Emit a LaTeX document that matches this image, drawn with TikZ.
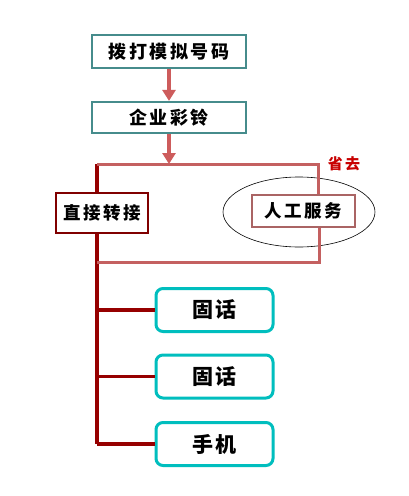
\documentclass[tikz,border=0pt]{standalone}
\usepackage{fontspec}
\newfontfamily\cjk[LetterSpace=14]{Noto Sans CJK SC}
\newfontfamily\cjkb[LetterSpace=6]{Noto Sans CJK SC}
\usetikzlibrary{arrows.meta}
\definecolor{topbd}{RGB}{70,140,140}
\definecolor{arr}{RGB}{205,92,92}
\definecolor{pinkln}{RGB}{196,96,96}
\definecolor{dred}{RGB}{150,0,0}
\definecolor{rgbd}{RGB}{170,100,100}
\definecolor{teal2}{RGB}{0,190,190}
\definecolor{saveclr}{RGB}{200,0,0}
\tikzset{
  topbox/.style={draw=topbd, line width=2.2pt, fill=white, inner sep=0pt, font=\cjk\bfseries\fontsize{18}{20}\selectfont},
  zzbox/.style={draw=dred!85!black, line width=2.4pt, fill=white, inner sep=0pt, font=\cjk\bfseries\fontsize{17.5}{19}\selectfont},
  rgbox/.style={draw=rgbd, line width=2.4pt, fill=white, inner sep=0pt, font=\cjk\bfseries\fontsize{17.5}{19}\selectfont},
  endbox/.style={draw=teal2, line width=3pt, rounded corners=7pt, fill=white, inner sep=0pt, minimum width=117pt, minimum height=43pt, font=\cjkb\bfseries\fontsize{21}{23}\selectfont},
  flowarr/.style={draw=arr, line width=3.2pt, -{Triangle[length=11pt,width=13pt]}},
  pinkline/.style={draw=pinkln, line width=3pt},
  darkline/.style={draw=dred, line width=3.4pt},
}
\begin{document}
\begin{tikzpicture}[x=1pt,y=-1pt]
\useasboundingbox (0,0) rectangle (408,496);
\fill[white] (0,0) rectangle (408,496);
% ellipse
\draw[black, line width=0.6pt] (299,212) ellipse [x radius=76, y radius=35];
% connector coordinates
\coordinate (tl) at (97,164);
\coordinate (tr) at (318,164);
\coordinate (bl) at (97,262);
\coordinate (br) at (319,262);
\coordinate (lb) at (97,444);
\coordinate (la) at (97,310);
\coordinate (lc) at (97,376.5);
% left vertical dark line
\draw[darkline] (tl) -- (lb);
% pink loop
\draw[pinkline] (tl) -- (tr) -- (318,196);
\draw[pinkline] (319,226) -- (br) -- (bl);
% nodes
\node[topbox, minimum width=154pt, minimum height=33pt] (b1) at (169,51.5) {拨打模拟号码};
\node[topbox, minimum width=154pt, minimum height=31pt] (b2) at (169,117.5) {企业彩铃};
\node[zzbox, minimum width=92pt, minimum height=40pt] (zz) at (102,213) {直接转接};
\node[rgbox, minimum width=103pt, minimum height=32pt] (rg) at (303.5,211) {人工服务};
\node[endbox] (g1) at (214.5,310) {固话};
\node[endbox] (g2) at (214.5,376.5) {固话};
\node[endbox] (sj) at (214.5,444) {手机};
\node[text=saveclr, font=\cjk\bfseries\fontsize{15}{17}\selectfont, inner sep=0pt] (sq) at (344,164) {省去};
% arrows
\draw[flowarr] (b1.south) -- (b2.north);
\draw[flowarr] (b2.south) -- (169,164);
% branches
\draw[darkline] (la) -- (la -| g1.west);
\draw[darkline] (lc) -- (lc -| g2.west);
\draw[darkline] (lb) -- (lb -| sj.west);
\end{tikzpicture}
\end{document}
